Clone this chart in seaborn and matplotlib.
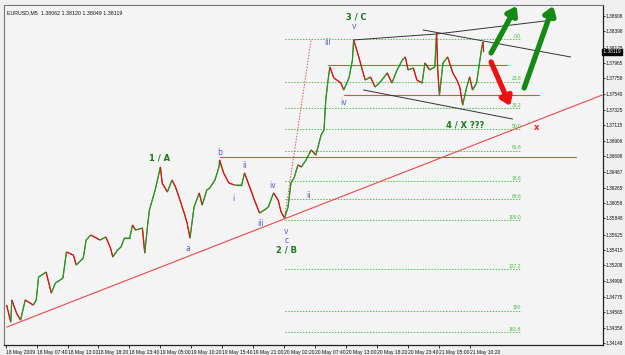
import numpy as np
import pandas as pd
import matplotlib
matplotlib.use("Agg")
import matplotlib.pyplot as plt
from matplotlib.collections import LineCollection
import seaborn as sns

# ---------------- data ----------------
symbol_text = "EURUSD,M5  1.38062 1.38120 1.38049 1.38119"

hours = [2.5, 3.2, 3.4, 4.2, 4.9, 5.7, 7.1, 7.6, 8.0, 9.3,
         10.2, 10.9, 11.7, 12.2, 12.8, 14.0, 14.5, 15.7, 16.2, 17.0,
         18.6, 19.6, 20.4, 20.8, 21.6, 22.2, 22.8, 23.7, 24.2, 24.7,
         25.9, 26.3, 26.8, 27.1, 28.1, 29.0, 29.3, 30.2, 31.0, 31.6,
         32.2, 33.1, 33.6, 34.1, 34.8, 35.7, 36.2, 37.0, 37.5, 38.4,
         39.1, 39.2, 39.9, 40.8, 41.8, 43.0, 43.5, 44.4, 45.2, 46.1,
         46.9, 47.6, 48.5, 49.3, 49.8, 50.4, 51.0, 51.5, 52.1, 52.7,
         53.3, 54.1, 55.0, 55.8, 56.7, 57.2, 57.5, 57.9, 58.2, 58.9,
         60.1, 60.6, 61.5, 62.1, 62.3, 63.0, 63.8, 64.3, 65.2, 66.0,
         66.9, 68.1, 68.9, 69.8, 70.7, 71.2, 71.7, 72.6, 73.2, 74.1,
         74.6, 75.4, 76.3, 76.6, 76.8, 77.1, 77.7, 78.5, 79.4, 80.1,
         80.6, 81.1, 81.8, 82.3, 82.8, 83.5, 84.0, 84.4, 84.6, 84.7]

prices = [1.34666, 1.34434, 1.34735, 1.34557, 1.34462, 1.34735, 1.34666, 1.34735, 1.35048, 1.35116,
          1.34830, 1.34966, 1.35007, 1.35035, 1.35389, 1.35348, 1.35212, 1.35307, 1.35553, 1.35621,
          1.35553, 1.35594, 1.35444, 1.35321, 1.35417, 1.35457, 1.35580, 1.35580, 1.35758, 1.35689,
          1.35717, 1.35376, 1.35758, 1.35962, 1.36235, 1.36549, 1.36330, 1.36208, 1.36371, 1.36276,
          1.36139, 1.35921, 1.35785, 1.35580, 1.36003, 1.36194, 1.36030, 1.36235, 1.36262, 1.36371,
          1.36549, 1.36644, 1.36467, 1.36330, 1.36303, 1.36303, 1.36467, 1.36276, 1.36099, 1.35921,
          1.35962, 1.36003, 1.36194, 1.36099, 1.35935, 1.35853, 1.36003, 1.36330, 1.36412, 1.36576,
          1.36549, 1.36644, 1.36781, 1.36712, 1.36985, 1.37053, 1.37463, 1.37735, 1.37913, 1.37763,
          1.37694, 1.37599, 1.37763, 1.38008, 1.38281, 1.38104, 1.37872, 1.37735, 1.37776, 1.37640,
          1.37708, 1.37831, 1.37694, 1.37872, 1.38008, 1.38049, 1.37872, 1.37899, 1.37735, 1.37694,
          1.37967, 1.37872, 1.37913, 1.38376, 1.37872, 1.37531, 1.37967, 1.38049, 1.37831, 1.37735,
          1.37640, 1.37394, 1.37640, 1.37776, 1.37599, 1.37694, 1.37967, 1.38185, 1.38254, 1.38119]

x_tick_pos = [2.33, 7.67, 13.0, 18.33, 23.67, 29.0, 34.33, 39.67, 45.0, 50.33,
              55.67, 61.0, 66.33, 71.67, 77.0, 82.33]
x_tick_labels = ["18 May 2009", "18 May 07:40", "18 May 13:00", "18 May 18:20",
                 "18 May 23:40", "19 May 05:00", "19 May 10:20", "19 May 15:40",
                 "19 May 21:00", "20 May 02:20", "20 May 07:40", "20 May 13:00",
                 "20 May 18:20", "20 May 23:40", "21 May 05:00", "21 May 10:20"]

y_ticks = [1.38608, 1.38398, 1.38175, 1.37965, 1.37758, 1.37540, 1.37325, 1.37115,
           1.36908, 1.36698, 1.36487, 1.36265, 1.36058, 1.35848, 1.35625, 1.35415,
           1.35208, 1.34998, 1.34775, 1.34565, 1.34358, 1.34148]
y_tick_labels = ["%.5f" % v for v in y_ticks]
current_price = 1.38119

# Fibonacci tool
fib_high = 1.38295
fib_low = 1.35826
fib_ratios = [0.0, 23.6, 38.2, 50.0, 61.8, 78.6, 88.6, 100.0, 127.2, 150.0, 161.8]
fib_labels = ["0.0", "23.6", "38.2", "50.0", "61.8", "78.6", "88.6", "100.0", "127.2", "150", "161.8"]
fib_x = [50.4, 91.2]
fib_trend_x = [50.4, 55.0]
fib_trend_y = [1.35853, 1.38295]

# horizontal red levels (start, end, price)
red_levels = [(39.2, 100.6, 1.36685), (57.9, 88.7, 1.37940), (60.6, 94.3, 1.37531)]
# black trend lines
black_lines = [((62.3, 76.7), (1.38281, 1.38363)),
               ((76.7, 96.8), (1.38363, 1.38554)),
               ((74.3, 99.7), (1.38417, 1.38049)),
               ((64.0, 89.7), (1.37599, 1.37203))]
# long red support trend line
support_x = [2.5, 105.2]
support_y = [1.34366, 1.37532]

# wave labels: (text, x, y, kind)
wave_labels = [("3 / C", 62.8, 1.38595, "g"), ("v", 62.3, 1.38458, "b"),
               ("iii", 57.9, 1.38240, "b"), ("iv", 60.6, 1.37422, "b"),
               ("4 / X ???", 81.5, 1.37122, "g"), ("1 / A", 28.8, 1.36671, "g"),
               ("b", 39.2, 1.36753, "b"), ("a", 33.8, 1.35444, "b"),
               ("ii", 43.5, 1.36576, "b"), ("i", 41.5, 1.36126, "b"),
               ("iv", 48.3, 1.36290, "b"), ("iii", 46.3, 1.35785, "b"),
               ("v", 50.7, 1.35676, "b"), ("c", 50.7, 1.35553, "b"),
               ("2 / B", 50.7, 1.35417, "g"), ("ii", 54.5, 1.36167, "b")]

green_arrows = [((86.0, 1.38104), (90.4, 1.38745)), ((91.7, 1.37626), (96.7, 1.38745))]
red_arrows = [((86.0, 1.37981), (89.3, 1.37380))]
x_mark = (93.9, 1.37081)

# ---------------- plot ----------------
sns.set_style("white")
plt.rcParams["font.family"] = ["DejaVu Sans"]
NARROW = ["Liberation Sans Narrow", "Liberation Sans", "DejaVu Sans"]

fig = plt.figure(figsize=(6.25, 3.55), dpi=100, facecolor="#f0f0f0")
ax = fig.add_axes([0.006, 0.028, 0.958, 0.958])
ax.set_facecolor("#f4f4f4")

df = pd.DataFrame({"hours": hours, "price": prices})
sns.lineplot(data=df, x="hours", y="price", color="#7a5a2a", lw=0.7, ax=ax, zorder=3)

# colour up / down moves like candles
pts = np.column_stack([df["hours"].values, df["price"].values])
segs = np.stack([pts[:-1], pts[1:]], axis=1)
cols = ["#1f9b1f" if b >= a else "#e01010" for a, b in zip(prices[:-1], prices[1:])]
ax.add_collection(LineCollection(segs, colors=cols, linewidths=0.9, zorder=4))

# fib levels
for r, lab in zip(fib_ratios, fib_labels):
    lvl = fib_high - (fib_high - fib_low) * r / 100.0
    ax.plot(fib_x, [lvl, lvl], color="#4cc24c", lw=0.7, ls=(0, (1.5, 1.5)), zorder=2)
    ax.text(fib_x[1], lvl + 0.00005, lab, color="#44bb44", fontsize=3.6, family=NARROW,
            ha="right", va="bottom", zorder=5)
ax.plot(fib_trend_x, fib_trend_y, color="#e85050", lw=0.7, ls=(0, (1.5, 1.5)), zorder=2)

# support line
ax.plot(support_x, support_y, color="#f04848", lw=0.8, zorder=2)

# red horizontal levels
for x0, x1, p in red_levels:
    ax.plot([x0, x1], [p, p], color="#f04848", lw=0.8, zorder=2)

# black trend lines
for xs, ys in black_lines:
    ax.plot(xs, ys, color="#333333", lw=0.7, zorder=2)

# wave labels
for txt, x, y, kind in wave_labels:
    if kind == "g":
        ax.text(x, y, txt, color="#1a7a1a", fontsize=6, fontweight="bold",
                ha="center", va="center", zorder=6)
    else:
        ax.text(x, y, txt, color="#5a5ad8", fontsize=5.5, ha="center", va="center", zorder=6)

# arrows
for (x0, y0), (x1, y1) in green_arrows:
    ax.annotate("", xy=(x1, y1), xytext=(x0, y0),
                arrowprops=dict(arrowstyle="-|>,head_length=0.5,head_width=0.35",
                                color="#138a13", lw=3.8, shrinkA=0, shrinkB=0), zorder=7)
for (x0, y0), (x1, y1) in red_arrows:
    ax.annotate("", xy=(x1, y1), xytext=(x0, y0),
                arrowprops=dict(arrowstyle="-|>,head_length=0.5,head_width=0.35",
                                color="#ee1111", lw=3.8, shrinkA=0, shrinkB=0), zorder=7)
ax.text(x_mark[0], x_mark[1], "x", color="#ee2222", fontsize=6, fontweight="bold",
        ha="center", va="center", zorder=6)

# symbol caption
ax.text(0.006, 0.985, symbol_text, transform=ax.transAxes, fontsize=3.8, family=NARROW,
        color="#111111", ha="left", va="top")

# axes
ax.set_xlim(2.0, 105.2)
ax.set_ylim(1.34121, 1.38758)
ax.set_xlabel("")
ax.set_ylabel("")
ax.yaxis.tick_right()
ax.set_yticks(y_ticks)
ax.set_yticklabels(y_tick_labels, fontsize=3.4, family=NARROW)
ax.set_xticks(x_tick_pos)
ax.set_xticklabels(x_tick_labels, fontsize=3.6, family=NARROW, ha="left")
ax.tick_params(axis="y", direction="out", length=1.5, width=0.6, pad=1.0, colors="#111111", right=True, left=False)
ax.tick_params(axis="x", direction="out", length=2, width=0.6, pad=1.2, colors="#111111", bottom=True)
for s in ["right", "bottom"]:
    ax.spines[s].set_color("#222222")
    ax.spines[s].set_linewidth(0.9)
for s in ["left", "top"]:
    ax.spines[s].set_color("#777777")
    ax.spines[s].set_linewidth(0.8)

# current price box
ax.text(1.0, current_price, " %.5f" % current_price, transform=ax.get_yaxis_transform(),
        fontsize=3.4, family=NARROW, color="white", ha="left", va="center",
        bbox=dict(boxstyle="square,pad=0.15", fc="black", ec="black"), zorder=8, clip_on=False)

fig.savefig("out.png", dpi=100, facecolor=fig.get_facecolor())
